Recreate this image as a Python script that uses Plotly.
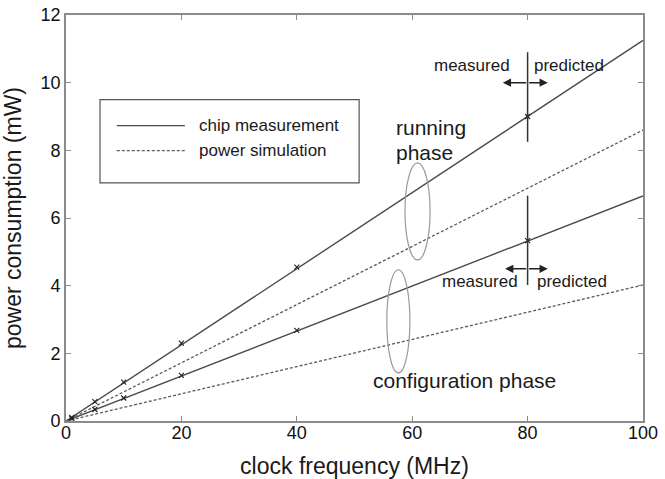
import plotly.graph_objects as go

# ---- data ----
freq_line = [0, 100]
run_meas_line = [0, 11.25]
run_sim_line = [0, 8.6]
cfg_meas_line = [0, 6.65]
cfg_sim_line = [0, 4.02]

meas_x = [1, 5, 10, 20, 40, 80]
run_meas_pts = [0.11, 0.57, 1.15, 2.3, 4.55, 9.0]
cfg_meas_pts = [0.07, 0.34, 0.68, 1.35, 2.68, 5.33]

x_ticks = [0, 20, 40, 60, 80, 100]
y_ticks = [0, 2, 4, 6, 8, 10, 12]

LINE = "#4a4a4a"
FONT = "Liberation Sans, Arial, Helvetica, sans-serif"

fig = go.Figure()
for yv in (run_meas_line, cfg_meas_line):
    fig.add_trace(go.Scatter(x=freq_line, y=yv, mode="lines",
                             line=dict(color=LINE, width=1.4), showlegend=False, hoverinfo="skip"))
for yv in (run_sim_line, cfg_sim_line):
    fig.add_trace(go.Scatter(x=freq_line, y=yv, mode="lines",
                             line=dict(color="#5a5a5a", width=1.3, dash="3px,2px"),
                             showlegend=False, hoverinfo="skip"))
for yv in (run_meas_pts, cfg_meas_pts):
    fig.add_trace(go.Scatter(x=meas_x, y=yv, mode="markers",
                             marker=dict(symbol="x-thin", size=5, line=dict(color="#222", width=1.1)),
                             showlegend=False, hoverinfo="skip"))

shapes = []
# legend box
shapes.append(dict(type="rect", xref="x", yref="y", x0=5.9, x1=50.8, y0=7.04, y1=9.5,
                   line=dict(color="#555", width=1.2), fillcolor="white", layer="above"))
shapes.append(dict(type="line", xref="x", yref="y", x0=8.8, x1=20.6, y0=8.73, y1=8.73,
                   line=dict(color=LINE, width=1.4)))
shapes.append(dict(type="line", xref="x", yref="y", x0=8.8, x1=20.6, y0=7.99, y1=7.99,
                   line=dict(color="#5a5a5a", width=1.3, dash="3px,2px")))
# vertical separators at 80 MHz
shapes.append(dict(type="line", xref="x", yref="y", x0=80, x1=80, y0=8.25, y1=10.9,
                   line=dict(color="#333", width=1.5)))
shapes.append(dict(type="line", xref="x", yref="y", x0=80, x1=80, y0=4.02, y1=6.66,
                   line=dict(color="#333", width=1.5)))
# ellipses
shapes.append(dict(type="circle", xref="x", yref="y", x0=58.75, x1=63.1, y0=4.76, y1=7.63,
                   line=dict(color="#999", width=1.2)))
shapes.append(dict(type="circle", xref="x", yref="y", x0=55.6, x1=59.6, y0=1.42, y1=4.47,
                   line=dict(color="#999", width=1.2)))

ann = []
def txt(x, y, s, size, xanchor="center"):
    ann.append(dict(x=x, y=y, xref="x", yref="y", text=s, showarrow=False,
                    xanchor=xanchor, yanchor="middle", align="left",
                    font=dict(family=FONT, size=size, color="#1a1a1a")))

txt(22.7, 8.73, "chip measurement", 17, "left")
txt(22.7, 7.99, "power simulation", 17, "left")
txt(77.3, 10.5, "measured", 17, "right")
txt(80.8, 10.5, "predicted", 17, "left")
txt(78.7, 4.11, "measured", 17, "right")
txt(81.3, 4.11, "predicted", 17, "left")
txt(56.8, 8.67, "running", 21, "left")
txt(56.8, 7.93, "phase", 21, "left")
txt(69.0, 1.21, "configuration phase", 21, "center")

for (yy, x_tail, x_head) in [(10.0, 80, 75.7), (10.0, 80, 83.5), (4.5, 80, 76.1), (4.5, 80, 83.5)]:
    ann.append(dict(x=x_head, y=yy, ax=x_tail, ay=yy, xref="x", yref="y", axref="x", ayref="y",
                    text="", showarrow=True, arrowhead=2, arrowsize=1.1, arrowwidth=1.5,
                    arrowcolor="#222"))

axis_common = dict(showgrid=False, zeroline=False, showline=True, linecolor="#8c8c8c", linewidth=1.6,
                   mirror="ticks", ticks="inside", ticklen=5, tickcolor="#8c8c8c", tickwidth=1.2,
                   automargin=False,
                   tickfont=dict(family=FONT, size=18, color="#111"))

fig.update_layout(
    width=665, height=479,
    margin=dict(l=66, r=22, t=15, b=58),
    paper_bgcolor="white", plot_bgcolor="white",
    shapes=shapes, annotations=ann, showlegend=False,
    xaxis=dict(range=[0, 100], tickvals=x_ticks, ticktext=[str(v) for v in x_ticks],
               ticklabelstandoff=-5,
               title=dict(text="clock frequency (MHz)", font=dict(family=FONT, size=23, color="#1a1a1a")),
               **axis_common),
    yaxis=dict(range=[0, 12], tickvals=y_ticks, ticktext=[str(v) for v in y_ticks],
               title=dict(text="power consumption (mW)", font=dict(family=FONT, size=23, color="#1a1a1a")),
               **axis_common),
)

# remove the default 8px page margin so the 665x479 figure fills the window exactly
fig.write_html("out.html", config={"displayModeBar": False},
               post_script="document.body.style.margin='0';")
